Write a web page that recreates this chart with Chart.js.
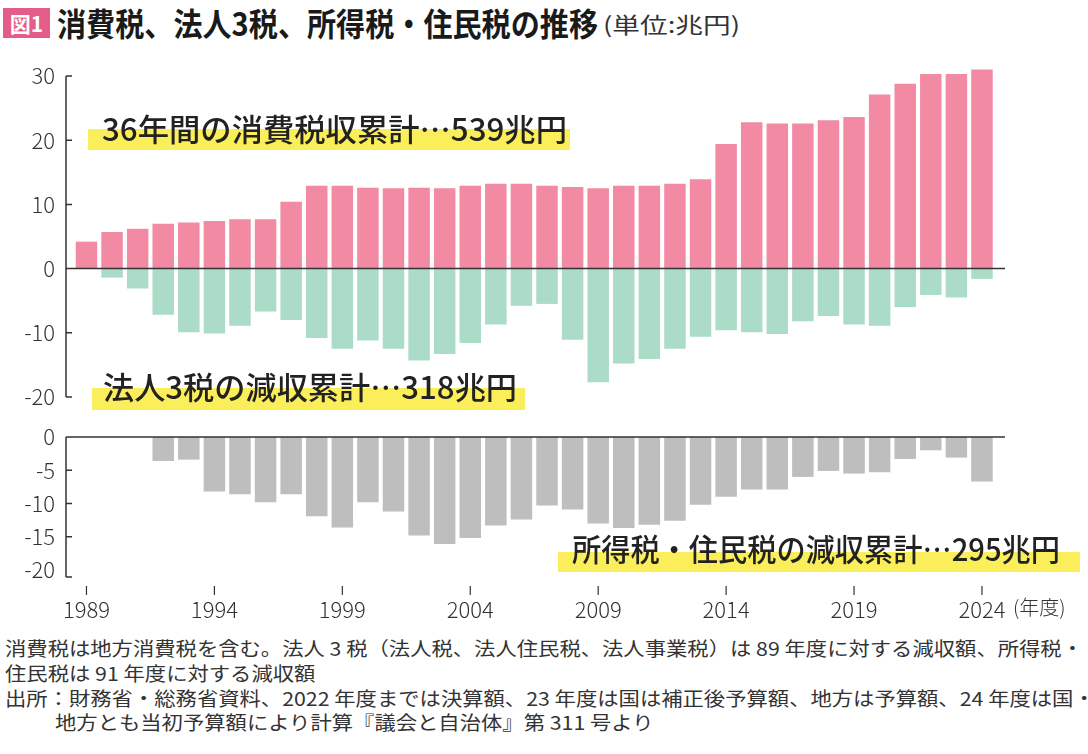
<!DOCTYPE html>
<html lang="ja">
<head>
<meta charset="utf-8">
<script src="https://cdn.jsdelivr.net/npm/chart.js@4.4.1/dist/chart.umd.min.js"></script>
<style>
  body { margin: 0; width: 1088px; height: 754px; position: relative; background: #fff; overflow: hidden;
         font-family: 'Noto Sans CJK JP', 'Noto Sans', sans-serif; color: #222; }
  .abs { position: absolute; white-space: nowrap; line-height: 1; transform-origin: 0 50%; }
  .hl { position: absolute; background: #faee5a; }
  .tag { position: absolute; left: 3px; top: 8px; width: 47px; height: 30px; background: #e45d88; color: #fff;
         font-weight: 700; font-size: 21px; line-height: 30px; text-align: center; }
  .note { font-size: 19px; color: #333; font-weight: 400; }
  .big { font-size: 31px; font-weight: 500; color: #222; }
  canvas { position: absolute; left: 0; }
</style>
</head>
<body>
<div class="tag">図1</div>
<div class="abs" id="title" style="left:57px;top:6px;font-size:32px;font-weight:700;color:#1a1a1a">消費税、法人3税、所得税・住民税の推移</div>
<div class="abs" id="unit" style="left:603px;top:12px;font-size:22px;color:#333">(単位:兆円)</div>

<div style="position:absolute;left:0;top:60px;width:1088px;height:350px"><canvas id="top"></canvas></div>
<div style="position:absolute;left:0;top:420px;width:1088px;height:210px"><canvas id="bottom"></canvas></div>

<div class="hl" style="left:88px;top:129px;width:482px;height:21px"></div>
<div class="abs big" id="lblA" style="left:102px;top:112px">36年間の消費税収累計…539兆円</div>
<div class="hl" style="left:92px;top:388px;width:433px;height:22px"></div>
<div class="abs big" id="lblB" style="left:103px;top:370px">法人3税の減収累計…318兆円</div>
<div class="hl" style="left:558px;top:552px;width:522px;height:20px"></div>
<div class="abs big" id="lblC" style="left:572px;top:532px">所得税・住民税の減収累計…295兆円</div>

<div class="abs" style="left:1013px;top:597px;font-size:20px;color:#333;font-weight:300">(年度)</div>

<div class="abs note" id="n1" style="left:5px;top:638px">消費税は地方消費税を含む。法人 3 税（法人税、法人住民税、法人事業税）は 89 年度に対する減収額、所得税・</div>
<div class="abs note" id="n2" style="left:5px;top:663px">住民税は 91 年度に対する減収額</div>
<div class="abs note" id="n3" style="left:5px;top:688px">出所：財務省・総務省資料、2022 年度までは決算額、23 年度は国は補正後予算額、地方は予算額、24 年度は国・</div>
<div class="abs note" id="n4" style="left:55px;top:712px">地方とも当初予算額により計算『議会と自治体』第 311 号より</div>

<script>
// ===== Data (兆円) =====
const years = [1989, 1990, 1991, 1992, 1993, 1994, 1995, 1996, 1997, 1998, 1999, 2000,
  2001, 2002, 2003, 2004, 2005, 2006, 2007, 2008, 2009, 2010, 2011, 2012,
  2013, 2014, 2015, 2016, 2017, 2018, 2019, 2020, 2021, 2022, 2023, 2024];

// 消費税収
const consumptionTax = [4.2, 5.7, 6.2, 7.0, 7.2, 7.4, 7.7, 7.7, 10.4, 12.9, 12.9, 12.6,
  12.5, 12.6, 12.5, 12.9, 13.2, 13.2, 12.9, 12.7, 12.5, 12.9, 12.9, 13.2,
  13.9, 19.4, 22.8, 22.6, 22.6, 23.1, 23.6, 27.1, 28.8, 30.3, 30.3, 31.0];

// 法人3税の減収額（89年度比）
const corporateCut = [0, -1.4, -3.1, -7.2, -9.9, -10.1, -8.9, -6.7, -8.0, -10.8, -12.5, -11.2,
  -12.5, -14.3, -13.3, -11.6, -8.7, -5.8, -5.5, -11.1, -17.7, -14.8, -14.1, -12.5,
  -10.6, -9.6, -9.9, -10.2, -8.2, -7.4, -8.7, -8.9, -6.0, -4.1, -4.5, -1.6];

// 所得税・住民税の減収額（91年度比）
const incomeCut = [0, 0, 0, -3.6, -3.4, -8.2, -8.6, -9.8, -8.6, -11.9, -13.6, -9.8,
  -11.2, -14.8, -16.1, -15.2, -13.3, -12.4, -10.3, -10.9, -13.0, -13.7, -13.2, -12.6,
  -10.2, -9.0, -7.9, -7.9, -6.0, -5.1, -5.5, -5.3, -3.3, -2.0, -3.1, -6.7];

const yearTicks = [1989, 1994, 1999, 2004, 2009, 2014, 2019, 2024];

// ===== Styles =====
const PINK = '#f28aa3';
const GREEN = '#abdcc8';
const GREY = '#bebebe';
const AXIS = '#333';
const labelFont = { family: "'Noto Sans CJK JP', 'Noto Sans', sans-serif", size: 22, weight: 300 };

const toPoints = (arr) => years.map((yr, i) => ({ x: yr, y: arr[i] }));

// axis line with inward tick stubs + zero line + x tick marks
const axisDeco = {
  id: 'axisDeco',
  afterDatasetsDraw(chart, args, opts) {
    const { ctx, chartArea: a, scales: { x, y } } = chart;
    const bottom = a.bottom + (opts.extend || 0);
    ctx.save();
    ctx.strokeStyle = AXIS;
    ctx.lineWidth = 1.5;
    ctx.beginPath();
    ctx.moveTo(a.left, a.top);
    ctx.lineTo(a.left, bottom);
    y.ticks.forEach(t => {
      const py = t.value === y.min ? bottom : y.getPixelForValue(t.value);
      ctx.moveTo(a.left, py);
      ctx.lineTo(a.left + 6, py);
    });
    const z = y.getPixelForValue(0);
    ctx.moveTo(a.left, z);
    ctx.lineTo(a.right, z);
    ctx.stroke();
    if (opts.xTicks) {
      ctx.lineWidth = 1.2;
      ctx.beginPath();
      x.ticks.forEach(t => {
        const px = x.getPixelForValue(t.value);
        ctx.moveTo(px, a.bottom + 16);
        ctx.lineTo(px, a.bottom + 25);
      });
      ctx.stroke();
    }
    ctx.restore();
  }
};

function xScale(show) {
  return {
    type: 'linear',
    min: 1988.2,
    max: 2024.9,
    offset: false,
    display: show,
    afterBuildTicks: (s) => { s.ticks = yearTicks.map(v => ({ value: v })); },
    afterFit: (s) => { if (show) s.height = 60; },
    grid: { display: false, drawTicks: false, offset: false },
    border: { display: false },
    ticks: { color: AXIS, font: labelFont, padding: 26, maxRotation: 0, autoSkip: false,
             callback: (v) => String(v) }
  };
}

function yScale(min, max, step) {
  return {
    min, max,
    // fixed axis width; no extra room for the end labels
    afterFit: (s) => { s.width = 66; s.paddingTop = 0; s.paddingBottom = 0; },
    grid: { display: false, drawTicks: false },
    border: { display: false },
    ticks: { stepSize: step, color: AXIS, font: labelFont, padding: 11 }
  };
}

const common = {
  responsive: true,
  maintainAspectRatio: false,
  animation: false,
  events: [],
  plugins: { legend: { display: false }, tooltip: { enabled: false } }
};

const barStyle = { barPercentage: 0.84, categoryPercentage: 1, borderWidth: 0, grouped: false, clip: false };

new Chart(document.getElementById('top'), {
  type: 'bar',
  data: {
    datasets: [
      { label: '消費税', data: toPoints(consumptionTax), backgroundColor: PINK, ...barStyle },
      { label: '法人3税', data: toPoints(corporateCut), backgroundColor: GREEN, ...barStyle }
    ]
  },
  options: {
    ...common,
    layout: { padding: { top: 16, bottom: 13, left: 0, right: 83 } },
    scales: { x: xScale(false), y: yScale(-20, 30, 10) },
    plugins: { ...common.plugins, axisDeco: { extend: 0 } }
  },
  plugins: [axisDeco]
});

new Chart(document.getElementById('bottom'), {
  type: 'bar',
  data: {
    datasets: [
      { label: '所得税・住民税', data: toPoints(incomeCut), backgroundColor: GREY, ...barStyle }
    ]
  },
  options: {
    ...common,
    layout: { padding: { top: 17, bottom: 0, left: 0, right: 83 } },
    scales: { x: xScale(true), y: yScale(-20, 0, 5) },
    plugins: { ...common.plugins, axisDeco: { extend: 7, xTicks: true } }
  },
  plugins: [axisDeco]
});

// ===== squeeze text to the widths of the original =====
function fitWidth(id, target) {
  const el = document.getElementById(id);
  const w = el.getBoundingClientRect().width;
  if (w > 0) el.style.transform = `scaleX(${target / w})`;
  return target / w;
}
fitWidth('title', 541);
fitWidth('unit', 137);
fitWidth('lblA', 465);
fitWidth('lblB', 414);
fitWidth('lblC', 488);
const k = fitWidth('n1', 1078);
['n2', 'n3', 'n4'].forEach(id => { document.getElementById(id).style.transform = `scaleX(${k})`; });
</script>
</body>
</html>
